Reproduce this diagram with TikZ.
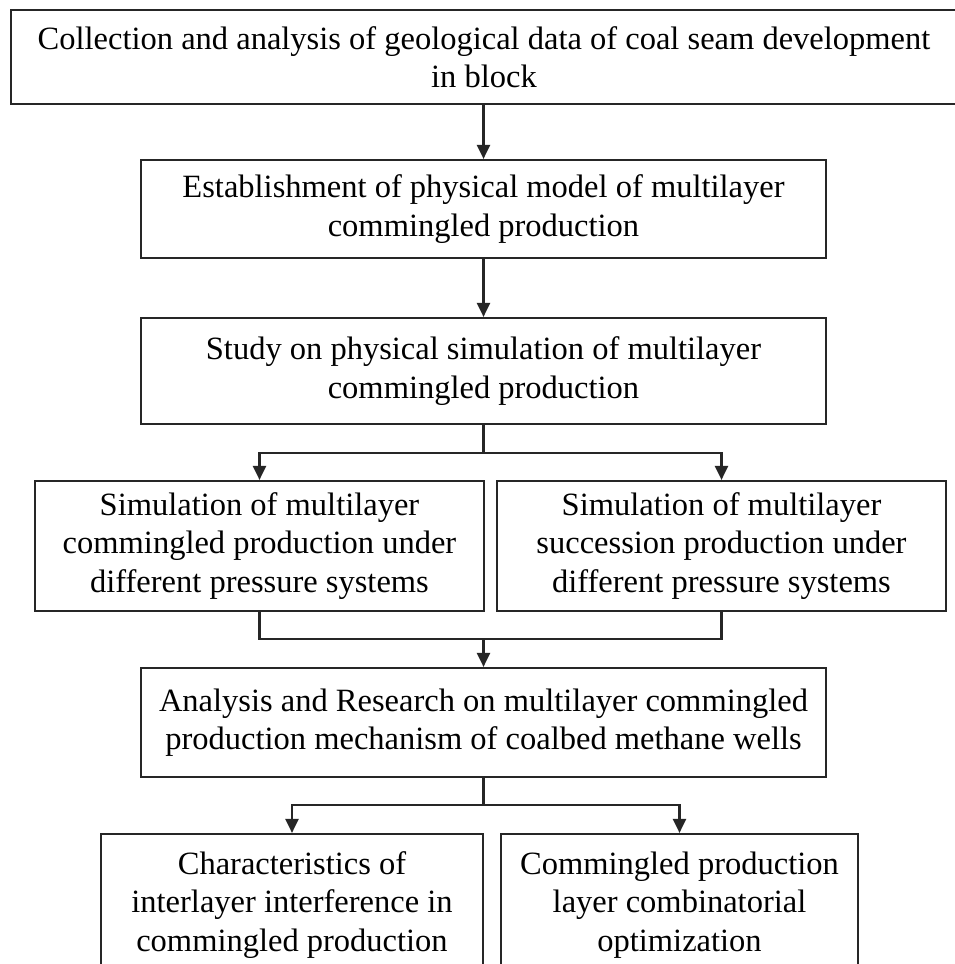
\documentclass[tikz,border=0pt]{standalone}
\usepackage{fontspec}
\setmainfont{Liberation Serif}
\usetikzlibrary{arrows.meta}
\begin{document}
\begin{tikzpicture}[x=1pt,y=-1pt,
  box/.style={draw=black!85, line width=2.2pt, inner sep=0pt, align=center,
    font=\fontsize{32.5}{38.5}\selectfont},
  conn/.style={draw=black!85, line width=2.2pt},
  arr/.style={conn, -{Triangle[width=13pt,length=14pt]}}]
\useasboundingbox[fill=white] (0,0) rectangle (955,964);
\node[box, minimum width=946pt, minimum height=94pt] (b1) at (484,57)
  {Collection and analysis of geological data of coal seam development\\in block};
\node[box, minimum width=685pt, minimum height=98pt] (b2) at (483.5,209)
  {Establishment of physical model of multilayer\\commingled production};
\node[box, minimum width=685pt, minimum height=106pt] (b3) at (483.5,371)
  {Study on physical simulation of multilayer\\commingled production};
\node[box, minimum width=449pt, minimum height=130pt] (b4a) at (259.5,546)
  {Simulation of multilayer\\commingled production under\\different pressure systems};
\node[box, minimum width=449pt, minimum height=130pt] (b4b) at (721.5,546)
  {Simulation of multilayer\\succession production under\\different pressure systems};
\node[box, minimum width=685pt, minimum height=109pt] (b5) at (483.5,722.5)
  {Analysis and Research on multilayer commingled\\production mechanism of coalbed methane wells};
\node[box, minimum width=382pt, minimum height=142pt] (b6a) at (292,905)
  {Characteristics of\\interlayer interference in\\commingled production};
\node[box, minimum width=357pt, minimum height=142pt] (b6b) at (679.5,905)
  {Commingled production\\layer combinatorial\\optimization};
\draw[arr] (b2.north |- b1.south) -- (b2.north);
\draw[arr] (b2.south) -- (b3.north);
\coordinate (j1) at (483.5,453);
\draw[conn] (b3.south) -- (j1);
\draw[arr] (j1) -| (b4a.north);
\draw[arr] (j1) -| (b4b.north);
\coordinate (j2) at (483.5,639);
\draw[conn] (b4a.south) |- (j2) -| (b4b.south);
\draw[arr] (j2) -- (b5.north);
\coordinate (j3) at (483.5,805);
\draw[conn] (b5.south) -- (j3);
\draw[arr] (j3) -| (b6a.north);
\draw[arr] (j3) -| (b6b.north);
\end{tikzpicture}
\end{document}
